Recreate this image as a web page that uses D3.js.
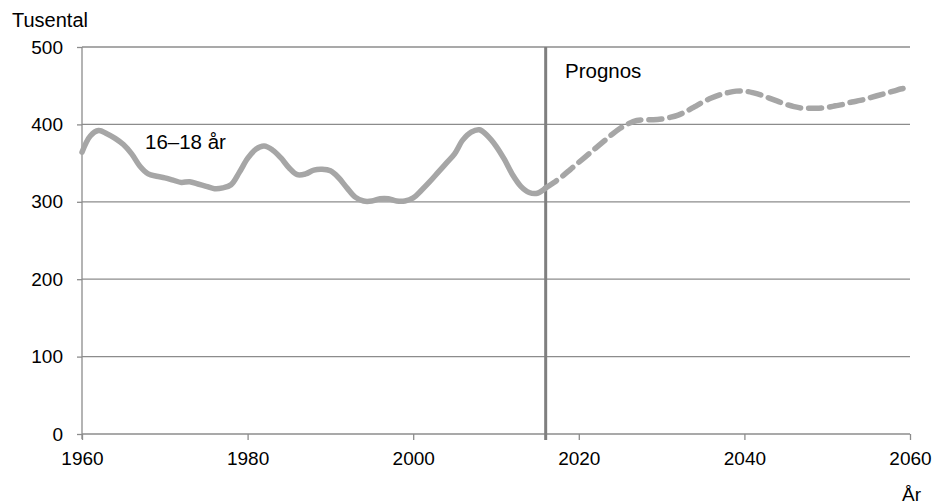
<!DOCTYPE html>
<html>
<head>
<meta charset="utf-8">
<script src="https://cdn.jsdelivr.net/npm/d3@7"></script>
<style>
html,body{margin:0;padding:0;background:#fff;}
svg{display:block;font-family:"Liberation Sans",Arial,sans-serif;}
</style>
</head>
<body>
<svg id="chart" width="943" height="504"></svg>
<script>
const histYears = d3.range(1960, 2017);
const histValues = [364,385,392,388,382,374,362,346,336,333,331,328,325,326,323,320,317,318,322,338,
  356,368,372,367,357,344,335,336,341,342,340,331,318,306,301,301,304,304,301,301,
  305,315,326,338,350,362,380,390,393,385,372,355,335,320,312,311,318];
const progYears = d3.range(2016, 2061);
const progValues = [318,325,333,342,351,360,369,378,387,395,401,405,406,406,407,409,412,417,423,429,
  434,438,441,443,443,441,438,434,430,426,423,421,421,421,422,424,426,429,431,434,
  437,440,443,446,448];
const xTicks = [1960,1980,2000,2020,2040,2060];
const yTicks = [0,100,200,300,400,500];
const prognosYear = 2016;
const seriesLabel = "16–18 år";
const prognosLabel = "Prognos";
const yTitle = "Tusental";
const xTitle = "År";

const svg = d3.select("#chart");
const L = 82, R = 910, T = 47, B = 434;
const x = d3.scaleLinear().domain([1960, 2060]).range([L, R]);
const y = d3.scaleLinear().domain([0, 500]).range([B, T]);
const gridColor = "#8c8c8c";
const fs = 19;

// gridlines
svg.append("g").selectAll("line").data(yTicks.filter(d => d > 0)).join("line")
  .attr("x1", L).attr("x2", R).attr("y1", d => y(d)).attr("y2", d => y(d))
  .attr("stroke", gridColor).attr("stroke-width", 1.3);

// y axis
const yAxis = svg.append("g").attr("transform", `translate(${L},0)`)
  .call(d3.axisLeft(y).tickValues(yTicks).tickSize(5).tickPadding(14));
yAxis.select(".domain").attr("stroke", gridColor).attr("stroke-width", 1.3).attr("d", `M0,${T}V${B+5}`);
yAxis.selectAll(".tick line").attr("stroke", gridColor).attr("stroke-width", 1.3);
yAxis.selectAll(".tick text").attr("font-size", fs).attr("fill", "#000")
  .attr("font-family", "Liberation Sans, Arial, sans-serif");

// x axis
const xAxis = svg.append("g").attr("transform", `translate(0,${B})`)
  .call(d3.axisBottom(x).tickValues(xTicks).tickFormat(d3.format("d")).tickSize(6).tickPadding(12));
xAxis.select(".domain").attr("stroke", gridColor).attr("stroke-width", 1.3).attr("d", `M${L},0H${R}`);
xAxis.selectAll(".tick line").attr("stroke", gridColor).attr("stroke-width", 1.3);
xAxis.selectAll(".tick text").attr("font-size", fs).attr("fill", "#000")
  .attr("font-family", "Liberation Sans, Arial, sans-serif");

// prognos line
svg.append("line").attr("x1", x(prognosYear)).attr("x2", x(prognosYear))
  .attr("y1", T).attr("y2", B + 6).attr("stroke", "#7f7f7f").attr("stroke-width", 3);

const line = d3.line().x(d => x(d[0])).y(d => y(d[1])).curve(d3.curveCatmullRom.alpha(0.5));
const hist = histYears.map((d, i) => [d, histValues[i]]);
const prog = progYears.map((d, i) => [d, progValues[i]]);

svg.append("path").attr("d", line(hist)).attr("fill", "none")
  .attr("stroke", "#a6a6a6").attr("stroke-width", 5.5).attr("stroke-linejoin", "round").attr("stroke-linecap", "round");
svg.append("path").attr("d", line(prog)).attr("fill", "none")
  .attr("stroke", "#a6a6a6").attr("stroke-width", 5.5).attr("stroke-dasharray", "13,8").attr("stroke-linecap", "round");

// labels
svg.append("text").attr("x", 145).attr("y", 149).attr("font-size", 20.5).text(seriesLabel);
svg.append("text").attr("x", 565).attr("y", 78).attr("font-size", 20.5).text(prognosLabel);
svg.append("text").attr("x", 12).attr("y", 27).attr("font-size", 20).text(yTitle);
svg.append("text").attr("x", 902).attr("y", 501).attr("font-size", 19).text(xTitle);
</script>
</body>
</html>
